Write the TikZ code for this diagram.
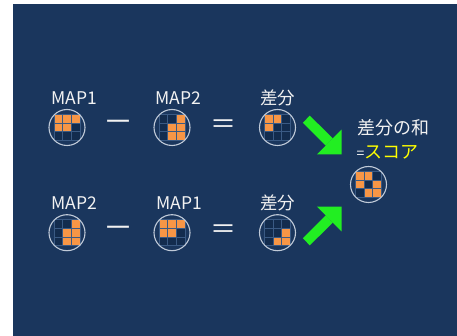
\documentclass[tikz,border=0pt]{standalone}
\usepackage{fontspec}
\setmainfont{Noto Sans CJK JP}
\usetikzlibrary{arrows.meta}
\definecolor{navy}{HTML}{1A365D}
\definecolor{cellbg}{HTML}{132C4E}
\definecolor{gridln}{HTML}{3A5A84}
\definecolor{orng}{HTML}{F79646}
\definecolor{ringc}{HTML}{C0CAD8}
\definecolor{txt}{HTML}{F2F2F2}
\definecolor{arrowgreen}{HTML}{22EE22}
\definecolor{yel}{HTML}{FFFF00}
\newcommand\mapgrid[3]{%
  \begin{scope}[shift={(#1,#2)}]
    \fill[cellbg] (-13,-13) rectangle (13,13);
    \foreach \c/\r in {#3} \fill[orng] ({-13+8.6667*\c},{-13+8.6667*\r}) rectangle ++(8.6667,8.6667);
    \foreach \k in {0,1,2,3} {
      \draw[gridln, line width=0.8pt] ({-13+8.6667*\k},-13) -- ({-13+8.6667*\k},13);
      \draw[gridln, line width=0.8pt] (-13,{-13+8.6667*\k}) -- (13,{-13+8.6667*\k});
    }
  \end{scope}}
\tikzset{
  ringnode/.style={circle, draw=ringc, line width=1.1pt, minimum size=36pt, inner sep=0pt},
  lbl/.style={text=txt, inner sep=0pt, anchor=west, font=\fontsize{17.5}{20}\selectfont},
  minussign/.style={text=txt, inner sep=0pt, font=\fontsize{30}{34}\selectfont},
  eqsign/.style={text=txt, inner sep=0pt, font=\fontsize{26}{30}\selectfont},
  garrow/.style={draw=arrowgreen, line width=10pt, -{Triangle[length=17.5pt, width=35pt, line width=0pt, fill=arrowgreen]}}
}
\begin{document}
\begin{tikzpicture}[x=1pt, y=-1pt]
\useasboundingbox (0,0) rectangle (457,336);
\fill[white] (0,0) rectangle (457,336);
\fill[navy] (13,4) rectangle (457,336);
% row 1
\node[lbl] (l11) at (51,98.3) {MAP1};
\node[lbl] (l12) at (155,98.3) {MAP2};
\node[lbl] (l13) at (260,98.3) {差分};
\mapgrid{67}{127.5}{0/0,1/0,2/0,0/1,1/1}
\node[ringnode] (c11) at (67,127.5) {};
\mapgrid{172}{127.5}{2/0,1/1,2/1,1/2,2/2}
\node[ringnode] (c12) at (172,127.5) {};
\mapgrid{277.5}{127.5}{0/0,1/0,0/1}
\node[ringnode] (c13) at (277.5,127.5) {};
\node[minussign] (m1) at (118.5,126) {－};
\node[eqsign] (e1) at (223,126.7) {＝};
% row 2
\node[lbl] (l21) at (51,203) {MAP2};
\node[lbl] (l22) at (156,203) {MAP1};
\node[lbl] (l23) at (260,203) {差分};
\mapgrid{67}{232.7}{2/0,1/1,2/1,1/2,2/2}
\node[ringnode] (c21) at (67,232.7) {};
\mapgrid{172}{232.7}{0/0,1/0,2/0,0/1,1/1}
\node[ringnode] (c22) at (172,232.7) {};
\mapgrid{277.5}{232.7}{2/1,1/2,2/2}
\node[ringnode] (c23) at (277.5,232.7) {};
\node[minussign] (m2) at (118.5,232.3) {－};
\node[eqsign] (e2) at (223,231.7) {＝};
% score
\node[lbl, font=\fontsize{18}{21}\selectfont] (st) at (357,127.5) {差分の和};
\node[lbl, font=\fontsize{18}{21}\selectfont] (sc) at (356.5,152.5) {{\fontsize{14}{16}\selectfont=}\textcolor{yel}{スコア}};
\mapgrid{368.5}{184.5}{0/0,1/0,0/1,2/1,1/2,2/2}
\node[ringnode] (cs) at (368.5,184.5) {};
% arrows
\coordinate (a1s) at (306.3,119.2);
\coordinate (a1e) at (341.7,154.3);
\coordinate (a2s) at (306.3,241.8);
\coordinate (a2e) at (341.7,206.7);
\draw[garrow] (a1s) -- (a1e);
\draw[garrow] (a2s) -- (a2e);
\end{tikzpicture}
\end{document}
